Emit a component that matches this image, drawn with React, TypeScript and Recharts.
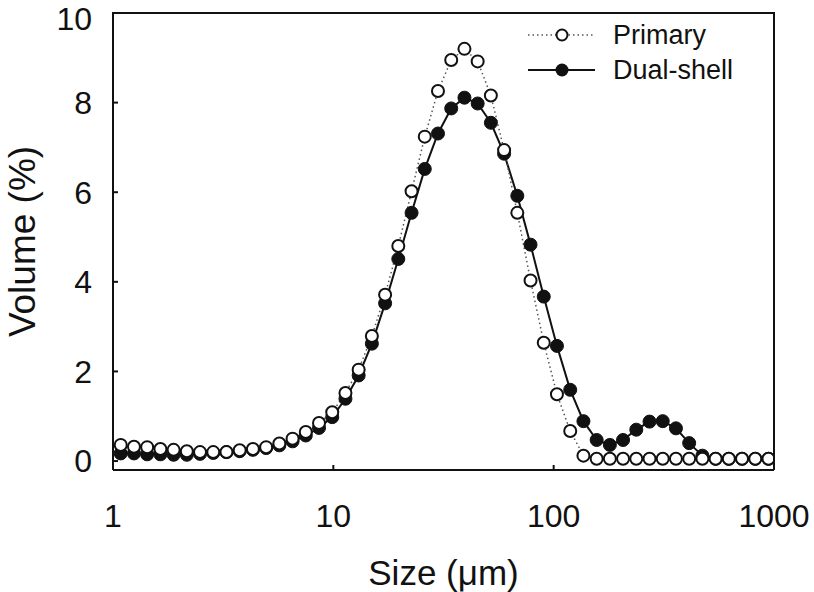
import React from "react";
import { LineChart, Line, XAxis, YAxis, Legend, Label } from "recharts";

// particle size classes (µm), log spaced
const sizes = [
  1.084, 1.245, 1.429, 1.641, 1.884, 2.163, 2.483, 2.851, 3.273, 3.758,
  4.315, 4.955, 5.689, 6.531, 7.499, 8.61, 9.886, 11.35, 13.03, 14.96,
  17.18, 19.72, 22.65, 26.0, 29.85, 34.28, 39.36, 45.19, 51.88, 59.57,
  68.39, 78.52, 90.16, 103.5, 118.9, 136.5, 156.7, 179.9, 206.5, 237.1,
  272.3, 312.6, 358.9, 412.1, 473.2, 543.3, 623.7, 716.1, 822.2, 944.1,
];

// volume fraction (%) per class
const primary = [
  0.36, 0.32, 0.31, 0.27, 0.25, 0.22, 0.2, 0.2, 0.2, 0.24,
  0.27, 0.31, 0.39, 0.5, 0.65, 0.85, 1.09, 1.52, 2.04, 2.79,
  3.71, 4.8, 6.02, 7.24, 8.26, 8.95, 9.2, 8.92, 8.16, 6.94,
  5.54, 4.03, 2.64, 1.49, 0.67, 0.12, 0.05, 0.05, 0.05, 0.05,
  0.05, 0.05, 0.05, 0.05, 0.05, 0.05, 0.05, 0.05, 0.05, 0.05,
];

const dualShell = [
  0.17, 0.17, 0.15, 0.15, 0.14, 0.14, 0.16, 0.18, 0.2, 0.22,
  0.25, 0.29, 0.35, 0.44, 0.57, 0.74, 0.98, 1.39, 1.91, 2.62,
  3.52, 4.51, 5.54, 6.52, 7.31, 7.87, 8.11, 7.98, 7.55, 6.86,
  5.92, 4.83, 3.67, 2.57, 1.59, 0.89, 0.47, 0.36, 0.47, 0.7,
  0.88, 0.89, 0.73, 0.4, 0.12, 0.05, 0.05, 0.05, 0.05, 0.05,
];

const xTicks = [1, 10, 100, 1000];
const yTicks = [0, 2, 4, 6, 8, 10];

const data = sizes.map((size, i) => ({
  size,
  primary: primary[i],
  dualShell: dualShell[i],
}));

const FONT = '"Liberation Sans", Arial, Helvetica, sans-serif';
const INK = "#111";

const LegendBox = () => (
  <svg width={210} height={75} style={{ display: "block" }}>
    <line x1={3} x2={70} y1={17} y2={17} stroke="#555" strokeWidth={1.5} strokeDasharray="1.5 3" />
    <circle cx={37} cy={17} r={5.5} fill="#fff" stroke={INK} strokeWidth={2} />
    <text x={88} y={17} dominantBaseline="central" fontSize={27} fontFamily={FONT} fill={INK}>
      Primary
    </text>
    <line x1={3} x2={70} y1={52} y2={52} stroke={INK} strokeWidth={2} />
    <circle cx={37} cy={52} r={6.5} fill={INK} />
    <text x={88} y={52} dominantBaseline="central" fontSize={27} fontFamily={FONT} fill={INK}>
      Dual-shell
    </text>
  </svg>
);

const YTitle = (props: any) => {
  const { viewBox } = props;
  const cx = 22;
  const cy = viewBox.y + viewBox.height / 2;
  return (
    <text
      x={cx}
      y={cy}
      transform={`rotate(-90 ${cx} ${cy})`}
      textAnchor="middle"
      dominantBaseline="central"
      fontSize={37}
      fontFamily={FONT}
      fill={INK}
    >
      Volume (%)
    </text>
  );
};

const XTitle = (props: any) => {
  const { viewBox } = props;
  return (
    <text
      x={viewBox.x + viewBox.width / 2}
      y={viewBox.y + 102}
      textAnchor="middle"
      dominantBaseline="central"
      fontSize={35}
      fontFamily={FONT}
      fill={INK}
    >
      Size (μm)
    </text>
  );
};

const tickStyle = { fontSize: 32, fill: INK, fontFamily: FONT };

export default function App() {
  return (
    <div style={{ position: "absolute", left: 0, top: 0, width: 814, height: 592, background: "#fff" }}>
      <LineChart width={814} height={592} data={data} margin={{ top: 13, right: 40, bottom: 0, left: 0 }}>
        <XAxis
          dataKey="size"
          type="number"
          scale="log"
          domain={[1, 1000]}
          ticks={xTicks}
          allowDataOverflow
          height={122}
          tickSize={-5}
          tickMargin={39}
          tick={tickStyle}
          stroke={INK}
          strokeWidth={2}
        >
          <Label content={XTitle} />
        </XAxis>
        <YAxis
          type="number"
          domain={[-0.2, 10]}
          ticks={yTicks}
          allowDataOverflow
          width={113}
          tickSize={-5}
          tickMargin={26}
          tick={tickStyle}
          stroke={INK}
          strokeWidth={2}
        >
          <Label content={YTitle} />
        </YAxis>
        <Legend
          layout="vertical"
          align="center"
          verticalAlign="middle"
          wrapperStyle={{ top: 18, left: 525, width: 210, height: 75 }}
          content={() => <LegendBox />}
        />
        <Line
          dataKey="dualShell"
          name="Dual-shell"
          stroke={INK}
          strokeWidth={2}
          dot={{ r: 6.5, fill: INK, stroke: INK, strokeWidth: 1 }}
          activeDot={false}
          isAnimationActive={false}
        />
        <Line
          dataKey="primary"
          name="Primary"
          stroke="#555"
          strokeWidth={1.5}
          strokeDasharray="1.5 3"
          dot={{ r: 6, fill: "#fff", stroke: INK, strokeWidth: 2, strokeDasharray: "none" }}
          activeDot={false}
          isAnimationActive={false}
        />
      </LineChart>
      {/* top and right edges of the plot frame */}
      <div
        style={{
          position: "absolute",
          left: 112,
          top: 12,
          width: 663,
          height: 458,
          boxSizing: "border-box",
          borderTop: `2px solid ${INK}`,
          borderRight: `2px solid ${INK}`,
          pointerEvents: "none",
        }}
      />
    </div>
  );
}
